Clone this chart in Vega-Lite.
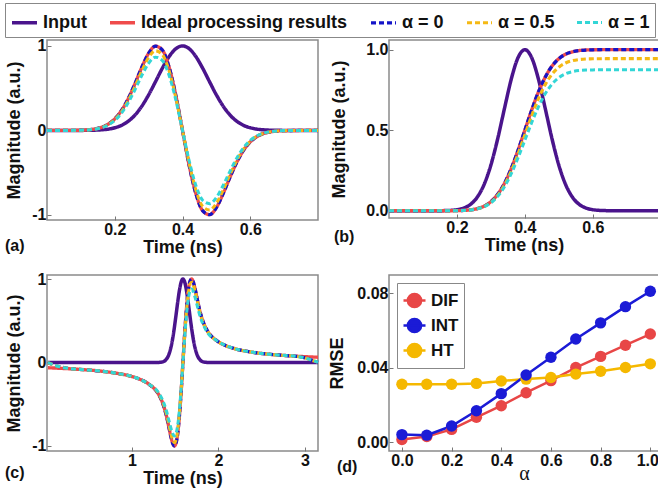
{
  "$schema": "https://vega.github.io/schema/vega-lite/v6.json",
  "background": "white",
  "padding": {"left": 3, "top": 1, "right": 0, "bottom": 0},
  "columns": 2,
  "spacing": {"row": 55, "column": 71},
  "bounds": "flush",
  "resolve": {"scale": {"color": "independent", "strokeDash": "independent", "strokeWidth": "independent"}},
  "config": {
    "font": "Liberation Sans",
    "view": {"stroke": "#8a8a8a", "strokeWidth": 1.5},
    "axis": {
      "grid": false, "domain": false, "ticks": true, "tickSize": -4, "tickColor": "#777", "tickWidth": 1,
      "labelFont": "Liberation Sans", "labelFontWeight": "bold", "labelFontSize": 16, "labelColor": "#111", "labelPadding": 5,
      "labelOverlap": false, "labelBound": false,
      "titleFont": "Liberation Sans", "titleFontWeight": "bold", "titleFontSize": 18, "titleColor": "#111", "titlePadding": 1
    },
    "axisY": {"titlePadding": 8},
    "title": {"font": "Liberation Sans", "fontWeight": "bold", "fontSize": 16, "color": "#111"},
    "legend": {"labelFont": "Liberation Sans", "labelFontWeight": "bold", "labelColor": "#111"}
  },
  "concat": [
    {
      "width": 271, "height": 180,
      "title": {"text": "(a)", "orient": "bottom", "anchor": "start", "frame": "group", "offset": 0, "dx": -42, "dy": -18},
      "data": {"values": [
        {"t":0.00,"inp":0,"ideal":0,"a0":0,"a05":0,"a1":0},
        {"t":0.02,"inp":0,"ideal":0,"a0":0,"a05":0,"a1":0},
        {"t":0.04,"inp":0,"ideal":0,"a0":0,"a05":0,"a1":0},
        {"t":0.06,"inp":0,"ideal":0.0003,"a0":0.0003,"a05":0.0003,"a1":0.0003},
        {"t":0.08,"inp":0.0001,"ideal":0.001,"a0":0.001,"a05":0.0009,"a1":0.0009},
        {"t":0.10,"inp":0.0004,"ideal":0.0027,"a0":0.0027,"a05":0.0026,"a1":0.0023},
        {"t":0.12,"inp":0.0011,"ideal":0.0069,"a0":0.0069,"a05":0.0065,"a1":0.006},
        {"t":0.14,"inp":0.0029,"ideal":0.0162,"a0":0.0162,"a05":0.0153,"a1":0.0141},
        {"t":0.16,"inp":0.0068,"ideal":0.0354,"a0":0.0354,"a05":0.0335,"a1":0.0308},
        {"t":0.18,"inp":0.0151,"ideal":0.072,"a0":0.072,"a05":0.068,"a1":0.0626},
        {"t":0.20,"inp":0.0314,"ideal":0.136,"a0":0.136,"a05":0.129,"a1":0.118},
        {"t":0.22,"inp":0.0605,"ideal":0.236,"a0":0.236,"a05":0.223,"a1":0.205},
        {"t":0.24,"inp":0.109,"ideal":0.378,"a0":0.378,"a05":0.357,"a1":0.329},
        {"t":0.26,"inp":0.183,"ideal":0.556,"a0":0.556,"a05":0.525,"a1":0.484},
        {"t":0.28,"inp":0.2875,"ideal":0.748,"a0":0.748,"a05":0.707,"a1":0.651},
        {"t":0.30,"inp":0.4208,"ideal":0.913,"a0":0.913,"a05":0.863,"a1":0.794},
        {"t":0.32,"inp":0.5747,"ideal":0.997,"a0":0.997,"a05":0.942,"a1":0.867},
        {"t":0.34,"inp":0.7323,"ideal":0.953,"a0":0.953,"a05":0.901,"a1":0.829},
        {"t":0.36,"inp":0.8707,"ideal":0.755,"a0":0.755,"a05":0.713,"a1":0.657},
        {"t":0.38,"inp":0.966,"ideal":0.419,"a0":0.419,"a05":0.396,"a1":0.365},
        {"t":0.40,"inp":1,"ideal":0,"a0":0,"a05":0,"a1":0},
        {"t":0.42,"inp":0.966,"ideal":-0.419,"a0":-0.419,"a05":-0.396,"a1":-0.365},
        {"t":0.44,"inp":0.8707,"ideal":-0.755,"a0":-0.755,"a05":-0.713,"a1":-0.657},
        {"t":0.46,"inp":0.7323,"ideal":-0.953,"a0":-0.953,"a05":-0.901,"a1":-0.829},
        {"t":0.48,"inp":0.5747,"ideal":-0.997,"a0":-0.997,"a05":-0.942,"a1":-0.867},
        {"t":0.50,"inp":0.4208,"ideal":-0.913,"a0":-0.913,"a05":-0.863,"a1":-0.794},
        {"t":0.52,"inp":0.2875,"ideal":-0.748,"a0":-0.748,"a05":-0.707,"a1":-0.651},
        {"t":0.54,"inp":0.183,"ideal":-0.556,"a0":-0.556,"a05":-0.525,"a1":-0.484},
        {"t":0.56,"inp":0.109,"ideal":-0.378,"a0":-0.378,"a05":-0.357,"a1":-0.329},
        {"t":0.58,"inp":0.0605,"ideal":-0.236,"a0":-0.236,"a05":-0.223,"a1":-0.205},
        {"t":0.60,"inp":0.0314,"ideal":-0.136,"a0":-0.136,"a05":-0.129,"a1":-0.118},
        {"t":0.62,"inp":0.0151,"ideal":-0.072,"a0":-0.072,"a05":-0.068,"a1":-0.0626},
        {"t":0.64,"inp":0.0068,"ideal":-0.0354,"a0":-0.0354,"a05":-0.0335,"a1":-0.0308},
        {"t":0.66,"inp":0.0029,"ideal":-0.0162,"a0":-0.0162,"a05":-0.0153,"a1":-0.0141},
        {"t":0.68,"inp":0.0011,"ideal":-0.0069,"a0":-0.0069,"a05":-0.0065,"a1":-0.006},
        {"t":0.70,"inp":0.0004,"ideal":-0.0027,"a0":-0.0027,"a05":-0.0026,"a1":-0.0023},
        {"t":0.72,"inp":0.0001,"ideal":-0.001,"a0":-0.001,"a05":-0.0009,"a1":-0.0009},
        {"t":0.74,"inp":0,"ideal":-0.0003,"a0":-0.0003,"a05":-0.0003,"a1":-0.0003},
        {"t":0.76,"inp":0,"ideal":0,"a0":0,"a05":0,"a1":0},
        {"t":0.78,"inp":0,"ideal":0,"a0":0,"a05":0,"a1":0},
        {"t":0.80,"inp":0,"ideal":0,"a0":0,"a05":0,"a1":0}
      ]},
      "transform": [{"fold": ["inp","ideal","a0","a05","a1"], "as": ["key","val"]}],
      "mark": {"type": "line", "interpolate": "monotone"},
      "encoding": {
        "x": {"field": "t", "type": "quantitative", "scale": {"domain": [0, 0.8], "nice": false, "zero": false},
              "axis": {"values": [0.2, 0.4, 0.6], "format": ".1f", "title": "Time (ns)"}},
        "y": {"field": "val", "type": "quantitative", "scale": {"domain": [-1.06, 1.07], "nice": false, "zero": false},
              "axis": {"values": [-1, 0, 1], "labelExpr": "datum.value < -0.5 ? '-1' : datum.value > 0.5 ? '1' : '0'", "title": "Magnitude (a.u.)"}},
        "color": {"field": "key", "type": "nominal",
                  "scale": {"domain": ["inp","ideal","a0","a05","a1"], "range": ["#4a148c","#ef4b4b","#1414c8","#f5b914","#33d6d6"]},
                  "legend": {"orient": "none", "legendX": -42, "legendY": -37, "direction": "horizontal", "columns": 5, "title": null,
                             "strokeColor": "#888", "padding": 5, "labelFontSize": 18, "labelLimit": 400, "labelOffset": 4,
                             "symbolType": "stroke", "symbolSize": 625, "symbolStrokeWidth": 3, "columnPadding": 16,
                             "labelExpr": "datum.label == 'inp' ? 'Input' : datum.label == 'ideal' ? 'Ideal processing results' : datum.label == 'a0' ? 'α = 0' : datum.label == 'a05' ? 'α = 0.5' : 'α = 1'"}},
        "strokeDash": {"field": "key", "type": "nominal",
                       "scale": {"domain": ["inp","ideal","a0","a05","a1"], "range": [[1,0],[1,0],[5,3],[5,3],[5,3]]},
                       "legend": {"orient": "none", "legendX": -42, "legendY": -37, "direction": "horizontal", "columns": 5, "title": null,
                             "strokeColor": "#888", "padding": 5, "labelFontSize": 18, "labelLimit": 400, "labelOffset": 4,
                             "symbolType": "stroke", "symbolSize": 625, "symbolStrokeWidth": 3, "columnPadding": 16,
                             "labelExpr": "datum.label == 'inp' ? 'Input' : datum.label == 'ideal' ? 'Ideal processing results' : datum.label == 'a0' ? 'α = 0' : datum.label == 'a05' ? 'α = 0.5' : 'α = 1'"}},
        "strokeWidth": {"field": "key", "type": "nominal", "scale": {"domain": ["inp","ideal","a0","a05","a1"], "range": [3.5,3,3,3,3]}, "legend": null}
      }
    },
    {
      "width": 270, "height": 178,
      "title": {"text": "(b)", "orient": "bottom", "anchor": "start", "frame": "group", "offset": 0, "dx": -55, "dy": -25},
      "data": {"values": [
        {"t":0.00,"inp":0,"ideal":0,"a0":0,"a05":0,"a1":0},
        {"t":0.04,"inp":0,"ideal":0,"a0":0,"a05":0,"a1":0},
        {"t":0.08,"inp":0,"ideal":0,"a0":0,"a05":0,"a1":0},
        {"t":0.12,"inp":0,"ideal":0,"a0":0,"a05":0,"a1":0},
        {"t":0.14,"inp":0.0002,"ideal":0,"a0":0,"a05":0,"a1":0},
        {"t":0.16,"inp":0.0007,"ideal":0,"a0":0,"a05":0,"a1":0},
        {"t":0.18,"inp":0.0022,"ideal":0.0002,"a0":0.0002,"a05":0.0002,"a1":0.0002},
        {"t":0.20,"inp":0.0065,"ideal":0.0007,"a0":0.0007,"a05":0.0007,"a1":0.0006},
        {"t":0.22,"inp":0.0169,"ideal":0.0021,"a0":0.0021,"a05":0.002,"a1":0.0018},
        {"t":0.24,"inp":0.0397,"ideal":0.0055,"a0":0.0055,"a05":0.0052,"a1":0.0048},
        {"t":0.26,"inp":0.0847,"ideal":0.0131,"a0":0.0131,"a05":0.0124,"a1":0.0115},
        {"t":0.28,"inp":0.163,"ideal":0.0284,"a0":0.0284,"a05":0.0268,"a1":0.0249},
        {"t":0.30,"inp":0.2837,"ideal":0.0562,"a0":0.0562,"a05":0.0531,"a1":0.0492},
        {"t":0.32,"inp":0.4465,"ideal":0.102,"a0":0.102,"a05":0.0963,"a1":0.0893},
        {"t":0.34,"inp":0.635,"ideal":0.1705,"a0":0.1705,"a05":0.161,"a1":0.1492},
        {"t":0.36,"inp":0.817,"ideal":0.2627,"a0":0.2627,"a05":0.248,"a1":0.2299},
        {"t":0.38,"inp":0.951,"ideal":0.3756,"a0":0.3756,"a05":0.3546,"a1":0.3287},
        {"t":0.40,"inp":1,"ideal":0.5,"a0":0.5,"a05":0.472,"a1":0.4375},
        {"t":0.42,"inp":0.951,"ideal":0.6244,"a0":0.6244,"a05":0.5894,"a1":0.5464},
        {"t":0.44,"inp":0.817,"ideal":0.7373,"a0":0.7373,"a05":0.696,"a1":0.6451},
        {"t":0.46,"inp":0.635,"ideal":0.8295,"a0":0.8295,"a05":0.783,"a1":0.7258},
        {"t":0.48,"inp":0.4465,"ideal":0.898,"a0":0.898,"a05":0.8477,"a1":0.7858},
        {"t":0.50,"inp":0.2837,"ideal":0.9438,"a0":0.9438,"a05":0.891,"a1":0.8258},
        {"t":0.52,"inp":0.163,"ideal":0.9716,"a0":0.9716,"a05":0.9172,"a1":0.8502},
        {"t":0.54,"inp":0.0847,"ideal":0.9869,"a0":0.9869,"a05":0.9316,"a1":0.8635},
        {"t":0.56,"inp":0.0397,"ideal":0.9945,"a0":0.9945,"a05":0.9388,"a1":0.8702},
        {"t":0.58,"inp":0.0169,"ideal":0.9979,"a0":0.9979,"a05":0.942,"a1":0.8732},
        {"t":0.60,"inp":0.0065,"ideal":0.9993,"a0":0.9993,"a05":0.9433,"a1":0.8744},
        {"t":0.62,"inp":0.0022,"ideal":0.9998,"a0":0.9998,"a05":0.9438,"a1":0.8748},
        {"t":0.64,"inp":0.0007,"ideal":1,"a0":1,"a05":0.944,"a1":0.875},
        {"t":0.66,"inp":0.0002,"ideal":1,"a0":1,"a05":0.944,"a1":0.875},
        {"t":0.70,"inp":0,"ideal":1,"a0":1,"a05":0.944,"a1":0.875},
        {"t":0.75,"inp":0,"ideal":1,"a0":1,"a05":0.944,"a1":0.875},
        {"t":0.80,"inp":0,"ideal":1,"a0":1,"a05":0.944,"a1":0.875}
      ]},
      "transform": [{"fold": ["inp","ideal","a0","a05","a1"], "as": ["key","val"]}],
      "mark": {"type": "line", "interpolate": "monotone", "clip": true},
      "encoding": {
        "x": {"field": "t", "type": "quantitative", "scale": {"domain": [0, 0.795], "nice": false, "zero": false},
              "axis": {"values": [0.2, 0.4, 0.6], "format": ".1f", "title": "Time (ns)"}},
        "y": {"field": "val", "type": "quantitative", "scale": {"domain": [-0.045, 1.06], "nice": false, "zero": false},
              "axis": {"values": [0, 0.5, 1], "format": ".1f", "title": "Magnitude (a.u.)", "titlePadding": 17}},
        "color": {"field": "key", "type": "nominal",
                  "scale": {"domain": ["inp","ideal","a0","a05","a1"], "range": ["#4a148c","#ef4b4b","#1414c8","#f5b914","#33d6d6"]}, "legend": null},
        "strokeDash": {"field": "key", "type": "nominal",
                       "scale": {"domain": ["inp","ideal","a0","a05","a1"], "range": [[1,0],[1,0],[5,3],[5,3],[5,3]]}, "legend": null},
        "strokeWidth": {"field": "key", "type": "nominal", "scale": {"domain": ["inp","ideal","a0","a05","a1"], "range": [3.5,3,3,3,3]}, "legend": null}
      }
    },
    {
      "width": 271, "height": 176,
      "title": {"text": "(c)", "orient": "bottom", "anchor": "start", "frame": "group", "offset": 0, "dx": -42, "dy": -22},
      "data": {"values": [
        {"t":0.03,"inp":0,"ideal":-0.063,"a0":0,"a05":0,"a1":0},
        {"t":0.1,"inp":0,"ideal":-0.066,"a0":-0.03,"a05":-0.03,"a1":-0.03},
        {"t":0.2,"inp":0,"ideal":-0.071,"a0":-0.058,"a05":-0.058,"a1":-0.058},
        {"t":0.3,"inp":0,"ideal":-0.076,"a0":-0.074,"a05":-0.074,"a1":-0.074},
        {"t":0.4,"inp":0,"ideal":-0.083,"a0":-0.083,"a05":-0.083,"a1":-0.083},
        {"t":0.6,"inp":0,"ideal":-0.099,"a0":-0.099,"a05":-0.099,"a1":-0.099},
        {"t":0.8,"inp":0,"ideal":-0.125,"a0":-0.125,"a05":-0.125,"a1":-0.125},
        {"t":1.0,"inp":0,"ideal":-0.168,"a0":-0.168,"a05":-0.168,"a1":-0.168},
        {"t":1.1,"inp":0,"ideal":-0.204,"a0":-0.204,"a05":-0.204,"a1":-0.204},
        {"t":1.2,"inp":0,"ideal":-0.262,"a0":-0.262,"a05":-0.262,"a1":-0.262},
        {"t":1.3,"inp":0.0006,"ideal":-0.367,"a0":-0.367,"a05":-0.36,"a1":-0.35},
        {"t":1.35,"inp":0.006,"ideal":-0.47,"a0":-0.47,"a05":-0.46,"a1":-0.44},
        {"t":1.4,"inp":0.041,"ideal":-0.642,"a0":-0.642,"a05":-0.62,"a1":-0.58},
        {"t":1.425,"inp":0.089,"ideal":-0.761,"a0":-0.761,"a05":-0.735,"a1":-0.68},
        {"t":1.45,"inp":0.175,"ideal":-0.884,"a0":-0.884,"a05":-0.85,"a1":-0.78},
        {"t":1.475,"inp":0.308,"ideal":-0.978,"a0":-0.978,"a05":-0.94,"a1":-0.86},
        {"t":1.49,"inp":0.411,"ideal":-1,"a0":-1,"a05":-0.96,"a1":-0.88},
        {"t":1.51,"inp":0.565,"ideal":-0.967,"a0":-0.967,"a05":-0.93,"a1":-0.85},
        {"t":1.53,"inp":0.726,"ideal":-0.848,"a0":-0.848,"a05":-0.815,"a1":-0.75},
        {"t":1.55,"inp":0.867,"ideal":-0.634,"a0":-0.634,"a05":-0.61,"a1":-0.56},
        {"t":1.57,"inp":0.965,"ideal":-0.341,"a0":-0.341,"a05":-0.33,"a1":-0.3},
        {"t":1.59,"inp":1,"ideal":0,"a0":0,"a05":0,"a1":0},
        {"t":1.61,"inp":0.965,"ideal":0.341,"a0":0.341,"a05":0.33,"a1":0.3},
        {"t":1.63,"inp":0.867,"ideal":0.634,"a0":0.634,"a05":0.61,"a1":0.56},
        {"t":1.65,"inp":0.726,"ideal":0.848,"a0":0.848,"a05":0.815,"a1":0.75},
        {"t":1.67,"inp":0.565,"ideal":0.967,"a0":0.967,"a05":0.93,"a1":0.85},
        {"t":1.69,"inp":0.411,"ideal":1,"a0":1,"a05":0.96,"a1":0.88},
        {"t":1.705,"inp":0.308,"ideal":0.978,"a0":0.978,"a05":0.94,"a1":0.86},
        {"t":1.73,"inp":0.175,"ideal":0.884,"a0":0.884,"a05":0.85,"a1":0.78},
        {"t":1.755,"inp":0.089,"ideal":0.761,"a0":0.761,"a05":0.735,"a1":0.68},
        {"t":1.78,"inp":0.041,"ideal":0.642,"a0":0.642,"a05":0.62,"a1":0.58},
        {"t":1.83,"inp":0.006,"ideal":0.47,"a0":0.47,"a05":0.46,"a1":0.44},
        {"t":1.88,"inp":0.0006,"ideal":0.367,"a0":0.367,"a05":0.36,"a1":0.35},
        {"t":1.98,"inp":0,"ideal":0.262,"a0":0.262,"a05":0.262,"a1":0.262},
        {"t":2.08,"inp":0,"ideal":0.204,"a0":0.204,"a05":0.204,"a1":0.204},
        {"t":2.18,"inp":0,"ideal":0.168,"a0":0.168,"a05":0.168,"a1":0.168},
        {"t":2.38,"inp":0,"ideal":0.125,"a0":0.125,"a05":0.125,"a1":0.125},
        {"t":2.58,"inp":0,"ideal":0.099,"a0":0.099,"a05":0.099,"a1":0.099},
        {"t":2.78,"inp":0,"ideal":0.083,"a0":0.083,"a05":0.083,"a1":0.083},
        {"t":2.9,"inp":0,"ideal":0.075,"a0":0.074,"a05":0.074,"a1":0.074},
        {"t":3.0,"inp":0,"ideal":0.07,"a0":0.055,"a05":0.055,"a1":0.055},
        {"t":3.1,"inp":0,"ideal":0.065,"a0":0.02,"a05":0.02,"a1":0.02},
        {"t":3.15,"inp":0,"ideal":0.063,"a0":0.003,"a05":0.003,"a1":0.003}
      ]},
      "transform": [{"fold": ["inp","ideal","a0","a05","a1"], "as": ["key","val"]}],
      "mark": {"type": "line", "interpolate": "monotone"},
      "encoding": {
        "x": {"field": "t", "type": "quantitative", "scale": {"domain": [0.02, 3.15], "nice": false, "zero": false},
              "axis": {"values": [1, 2, 3], "format": "d", "title": "Time (ns)"}},
        "y": {"field": "val", "type": "quantitative", "scale": {"domain": [-1.06, 1.048], "nice": false, "zero": false},
              "axis": {"values": [-1, 0, 1], "labelOverlap": false, "labelExpr": "datum.value < -0.5 ? '-1' : datum.value > 0.5 ? '1' : '0'", "title": "Magnitude (a.u.)"}},
        "color": {"field": "key", "type": "nominal",
                  "scale": {"domain": ["inp","ideal","a0","a05","a1"], "range": ["#4a148c","#ef4b4b","#1414c8","#f5b914","#33d6d6"]}, "legend": null},
        "strokeDash": {"field": "key", "type": "nominal",
                       "scale": {"domain": ["inp","ideal","a0","a05","a1"], "range": [[1,0],[1,0],[5,3],[5,3],[5,3]]}, "legend": null},
        "strokeWidth": {"field": "key", "type": "nominal", "scale": {"domain": ["inp","ideal","a0","a05","a1"], "range": [3.5,3,3,3,3]}, "legend": null}
      }
    },
    {
      "width": 270, "height": 176,
      "title": {"text": "(d)", "orient": "bottom", "anchor": "start", "frame": "group", "offset": 0, "dx": -52, "dy": -24},
      "data": {"values": [
        {"alpha":0.0,"method":"DIF","rmse":0.0014},{"alpha":0.1,"method":"DIF","rmse":0.003},{"alpha":0.2,"method":"DIF","rmse":0.0068},
        {"alpha":0.3,"method":"DIF","rmse":0.0133},{"alpha":0.4,"method":"DIF","rmse":0.0195},{"alpha":0.5,"method":"DIF","rmse":0.0265},
        {"alpha":0.6,"method":"DIF","rmse":0.033},{"alpha":0.7,"method":"DIF","rmse":0.04},{"alpha":0.8,"method":"DIF","rmse":0.046},
        {"alpha":0.9,"method":"DIF","rmse":0.052},{"alpha":1.0,"method":"DIF","rmse":0.058},
        {"alpha":0.0,"method":"HT","rmse":0.031},{"alpha":0.1,"method":"HT","rmse":0.031},{"alpha":0.2,"method":"HT","rmse":0.031},
        {"alpha":0.3,"method":"HT","rmse":0.0315},{"alpha":0.4,"method":"HT","rmse":0.0328},{"alpha":0.5,"method":"HT","rmse":0.0338},
        {"alpha":0.6,"method":"HT","rmse":0.0347},{"alpha":0.7,"method":"HT","rmse":0.0365},{"alpha":0.8,"method":"HT","rmse":0.038},
        {"alpha":0.9,"method":"HT","rmse":0.04},{"alpha":1.0,"method":"HT","rmse":0.042},
        {"alpha":0.0,"method":"INT","rmse":0.004},{"alpha":0.1,"method":"INT","rmse":0.0037},{"alpha":0.2,"method":"INT","rmse":0.0086},
        {"alpha":0.3,"method":"INT","rmse":0.0168},{"alpha":0.4,"method":"INT","rmse":0.026},{"alpha":0.5,"method":"INT","rmse":0.036},
        {"alpha":0.6,"method":"INT","rmse":0.0455},{"alpha":0.7,"method":"INT","rmse":0.0553},{"alpha":0.8,"method":"INT","rmse":0.064},
        {"alpha":0.9,"method":"INT","rmse":0.0727},{"alpha":1.0,"method":"INT","rmse":0.081}
      ]},
      "encoding": {
        "x": {"field": "alpha", "type": "quantitative", "scale": {"domain": [-0.052, 1.035], "nice": false, "zero": false},
              "axis": {"values": [0, 0.2, 0.4, 0.6, 0.8, 1.0], "format": ".1f", "title": "α", "titleFont": "Liberation Serif", "titleFontWeight": "normal", "titleFontSize": 20, "labelPadding": 5, "titlePadding": -5,
                       "labelOffset": {"condition": {"test": "datum.value == 1", "value": -3}, "value": 0}}},
        "y": {"field": "rmse", "type": "quantitative", "scale": {"domain": [-0.0048, 0.0897], "nice": false, "zero": false},
              "axis": {"values": [0, 0.04, 0.08], "format": ".2f", "title": "RMSE", "titlePadding": 10}},
        "color": {"field": "method", "type": "nominal", "sort": ["DIF","INT","HT"],
                  "scale": {"domain": ["DIF","INT","HT"], "range": ["#e84646","#1b1bd6","#f5b800"]},
                  "legend": {"orient": "top-left", "offset": 8, "title": null, "strokeColor": "#888", "padding": 5, "rowPadding": 0,
                             "labelFontSize": 17, "labelOffset": 4,
                             "symbolType": "M-1,0H1M0.6,0A0.6,0.6,0,1,1,-0.6,0A0.6,0.6,0,1,1,0.6,0", "symbolSize": 484, "symbolStrokeWidth": 2.5}}
      },
      "layer": [
        {"mark": {"type": "line", "strokeWidth": 2.5}},
        {"mark": {"type": "point", "filled": true, "size": 130, "opacity": 1}}
      ]
    }
  ]
}
